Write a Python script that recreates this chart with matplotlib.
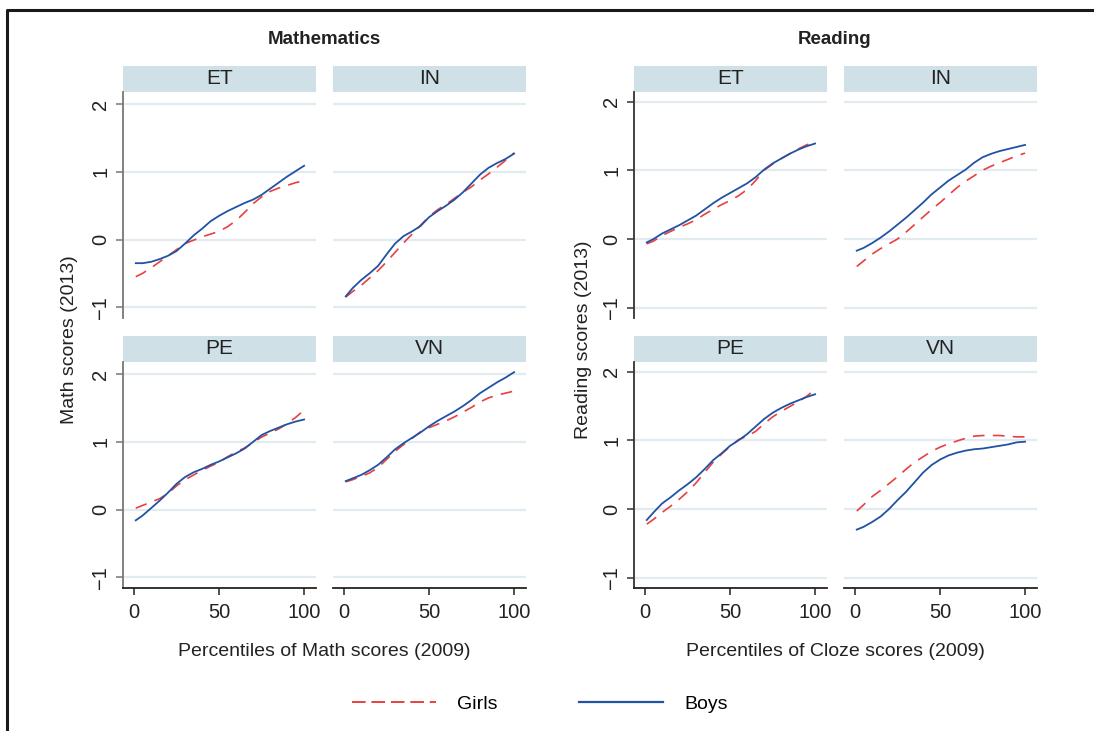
import matplotlib
matplotlib.use("Agg")
import matplotlib.pyplot as plt
from matplotlib.patches import Rectangle
from matplotlib.lines import Line2D

plt.rcParams['font.family'] = ['Liberation Sans', 'DejaVu Sans']

# percentiles of the 2009 score at which the smoothed curves are evaluated
pct = [1, 5, 10, 15, 20, 25, 30, 35, 40, 45, 50, 55, 60, 65, 70, 75, 80, 85, 90, 95, 100]

# Mathematics, 2013 score by country
math_et_girls = [-0.55, -0.50, -0.42, -0.33, -0.24, -0.15, -0.06, -0.01, 0.04, 0.08, 0.12,
                 0.19, 0.28, 0.40, 0.53, 0.63, 0.71, 0.76, 0.80, 0.84, 0.87]
math_et_boys = [-0.35, -0.35, -0.33, -0.29, -0.24, -0.17, -0.06, 0.06, 0.16, 0.27, 0.35,
                0.42, 0.48, 0.54, 0.59, 0.66, 0.75, 0.84, 0.93, 1.01, 1.09]
math_in_girls = [-0.85, -0.77, -0.68, -0.57, -0.46, -0.33, -0.19, -0.05, 0.08, 0.21, 0.34,
                 0.44, 0.52, 0.61, 0.70, 0.78, 0.88, 0.97, 1.07, 1.17, 1.28]
math_in_boys = [-0.84, -0.72, -0.60, -0.50, -0.39, -0.22, -0.06, 0.05, 0.12, 0.20, 0.33,
                0.42, 0.50, 0.59, 0.70, 0.83, 0.96, 1.06, 1.13, 1.19, 1.27]
math_pe_girls = [0.02, 0.06, 0.11, 0.16, 0.24, 0.35, 0.44, 0.51, 0.58, 0.64, 0.70,
                 0.78, 0.85, 0.91, 0.99, 1.07, 1.13, 1.19, 1.27, 1.36, 1.47]
math_pe_boys = [-0.16, -0.09, 0.02, 0.13, 0.25, 0.38, 0.48, 0.55, 0.60, 0.66, 0.71,
                0.77, 0.83, 0.90, 1.00, 1.10, 1.16, 1.21, 1.26, 1.30, 1.33]
math_vn_girls = [0.41, 0.44, 0.49, 0.54, 0.62, 0.74, 0.86, 0.96, 1.05, 1.15, 1.21,
                 1.26, 1.31, 1.37, 1.44, 1.51, 1.59, 1.65, 1.69, 1.72, 1.75]
math_vn_boys = [0.42, 0.46, 0.51, 0.58, 0.66, 0.77, 0.89, 0.98, 1.06, 1.14, 1.23,
                1.31, 1.38, 1.45, 1.53, 1.62, 1.72, 1.80, 1.88, 1.95, 2.03]

# Reading, 2013 score by country
read_et_girls = [-0.07, -0.03, 0.05, 0.11, 0.17, 0.22, 0.28, 0.36, 0.43, 0.50, 0.56,
                 0.63, 0.72, 0.85, 1.00, 1.09, 1.17, 1.24, 1.31, 1.37, 1.42]
read_et_boys = [-0.05, 0.00, 0.08, 0.14, 0.20, 0.27, 0.34, 0.43, 0.52, 0.60, 0.67,
                0.74, 0.81, 0.90, 1.01, 1.10, 1.17, 1.24, 1.30, 1.35, 1.39]
read_in_girls = [-0.40, -0.32, -0.22, -0.14, -0.07, 0.00, 0.10, 0.21, 0.32, 0.43, 0.53,
                 0.64, 0.75, 0.84, 0.92, 1.00, 1.06, 1.11, 1.16, 1.21, 1.25]
read_in_boys = [-0.17, -0.13, -0.06, 0.02, 0.11, 0.21, 0.31, 0.42, 0.53, 0.65, 0.75,
                0.85, 0.93, 1.01, 1.11, 1.19, 1.24, 1.28, 1.31, 1.34, 1.37]
read_pe_girls = [-0.22, -0.15, -0.05, 0.04, 0.14, 0.25, 0.38, 0.53, 0.68, 0.80, 0.91,
                 1.01, 1.06, 1.13, 1.24, 1.34, 1.42, 1.49, 1.56, 1.64, 1.74]
read_pe_boys = [-0.16, -0.05, 0.08, 0.17, 0.27, 0.36, 0.46, 0.58, 0.71, 0.81, 0.92,
                1.00, 1.09, 1.20, 1.31, 1.40, 1.47, 1.53, 1.58, 1.63, 1.67]
read_vn_girls = [-0.03, 0.06, 0.18, 0.27, 0.37, 0.47, 0.58, 0.68, 0.76, 0.84, 0.90,
                 0.95, 0.99, 1.03, 1.06, 1.07, 1.07, 1.07, 1.06, 1.05, 1.05]
read_vn_boys = [-0.30, -0.26, -0.19, -0.11, 0.00, 0.13, 0.25, 0.39, 0.53, 0.64, 0.72,
                0.78, 0.82, 0.85, 0.87, 0.88, 0.90, 0.92, 0.94, 0.97, 0.98]

countries = ['ET', 'IN', 'PE', 'VN']
math_series = {
    'ET': (math_et_girls, math_et_boys), 'IN': (math_in_girls, math_in_boys),
    'PE': (math_pe_girls, math_pe_boys), 'VN': (math_vn_girls, math_vn_boys),
}
read_series = {
    'ET': (read_et_girls, read_et_boys), 'IN': (read_in_girls, read_in_boys),
    'PE': (read_pe_girls, read_pe_boys), 'VN': (read_vn_girls, read_vn_boys),
}

GIRLS_COLOR = '#e8403f'
BOYS_COLOR = '#2152a3'
GRID_COLOR = '#e2ecf0'
STRIP_COLOR = '#cfe1e6'
TEXT_COLOR = '#222222'
DASH = (0, (7, 5))
FS = 13.5

W, H = 1094, 731
fig = plt.figure(figsize=(W / 100, H / 100), dpi=100)


def px_axes(x0, y0, x1, y1):
    """ Add axes from pixel box (left, top, right, bottom) """
    return fig.add_axes([x0 / W, 1 - y1 / H, (x1 - x0) / W, (y1 - y0) / H])


def draw_group(series, lefts, tops, ylim, spine_color, title, xlabel, ylabel,
               center_x, ylabel_x):
    width = 192.5
    strip_h = 26
    for idx, country in enumerate(countries):
        row, col = divmod(idx, 2)
        top, bottom = tops[row]
        ax = px_axes(lefts[col], top, lefts[col] + width, bottom)
        girls, boys = series[country]
        ax.plot(pct, girls, color=GIRLS_COLOR, linestyle=DASH, linewidth=1.2, zorder=3)
        ax.plot(pct, boys, color=BOYS_COLOR, linewidth=1.3, zorder=4)

        ax.set_xlim(-6.5, 106.7)
        ax.set_ylim(*ylim)
        for gy in (-1, 0, 1, 2):
            ax.axhline(gy, color=GRID_COLOR, linewidth=1.6, zorder=1)

        for side in ('top', 'right'):
            ax.spines[side].set_visible(False)
        ax.spines['left'].set_color(spine_color)
        ax.spines['left'].set_linewidth(1.3)
        ax.spines['bottom'].set_color(TEXT_COLOR)
        ax.spines['bottom'].set_linewidth(1.3)

        ax.set_yticks([-1, 0, 1, 2])
        ax.set_xticks([0, 50, 100])
        ax.tick_params(axis='y', length=5, width=1.1, color=spine_color, pad=4,
                       labelsize=14.5, labelrotation=90, labelcolor=TEXT_COLOR)
        ax.tick_params(axis='x', length=5, width=1.1, color=TEXT_COLOR, pad=6,
                       labelsize=14.5, labelcolor=TEXT_COLOR)
        for lab in ax.get_yticklabels():
            lab.set_verticalalignment('center')
        if col == 1:
            ax.spines['left'].set_visible(False)
            ax.tick_params(axis='y', left=False, labelleft=False)
        if row == 0:
            ax.spines['bottom'].set_visible(False)
            ax.tick_params(axis='x', bottom=False, labelbottom=False)
        ax.patch.set_alpha(0)

        # country strip above the panel
        frac = strip_h / (bottom - top)
        ax.add_patch(Rectangle((0, 1), 1, frac, transform=ax.transAxes,
                               facecolor=STRIP_COLOR, edgecolor='none', clip_on=False))
        ax.text(0.5, 1 + frac / 2, country, transform=ax.transAxes, ha='center',
                va='center', fontsize=15, color=TEXT_COLOR)

    fig.text(center_x / W, 1 - 39 / H, title, ha='center', va='center',
             fontsize=FS, fontweight='bold', color=TEXT_COLOR)
    fig.text(center_x / W, 1 - 651 / H, xlabel, ha='center', va='center',
             fontsize=14, color=TEXT_COLOR)
    fig.text(ylabel_x / W, 1 - 340 / H, ylabel, ha='center', va='center',
             rotation=90, fontsize=14, color=TEXT_COLOR)


tops = [(92, 318), (362, 588)]
draw_group(math_series, [123, 333], tops, (-1.16, 2.18), '#777777',
           'Mathematics', 'Percentiles of Math scores (2009)', 'Math scores (2013)',
           324, 70)
draw_group(read_series, [634, 844], tops, (-1.15, 2.14), '#333333',
           'Reading', 'Percentiles of Cloze scores (2009)', 'Reading scores (2013)',
           835, 583)

handles = [Line2D([], [], color=GIRLS_COLOR, linestyle=(0, (7, 3)), linewidth=1.4),
           Line2D([], [], color=BOYS_COLOR, linewidth=1.6)]
fig.legend(handles, ['Girls', 'Boys'], loc='center', bbox_to_anchor=(540 / W, 1 - 704 / H),
           ncol=2, frameon=False, fontsize=14, handlelength=4.3, handletextpad=1.1,
           columnspacing=4.2)

# outer frame along the top and left edges
fig.add_artist(Line2D([7 / W, 7 / W, 1], [0, 1 - 10 / H, 1 - 10 / H],
                      transform=fig.transFigure, color='#1a1a1a', linewidth=2.2))

fig.savefig('out.png', dpi=100)
